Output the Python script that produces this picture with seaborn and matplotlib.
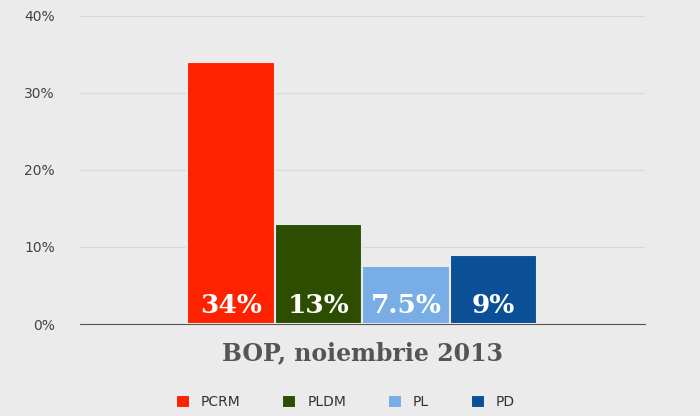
import matplotlib
matplotlib.use("Agg")
import matplotlib.pyplot as plt
import seaborn as sns
import pandas as pd

partide = ["PCRM", "PLDM", "PL", "PD"]
valori = [34, 13, 7.5, 9]
etichete = ["34%", "13%", "7.5%", "9%"]
culori = ["#ff2200", "#2d4d00", "#78ade6", "#0b4f97"]
grup = "BOP, noiembrie 2013"

df = pd.DataFrame({"grup": [grup] * len(partide), "partid": partide, "valoare": valori})

sns.set_style("whitegrid")
fig = plt.figure(figsize=(7, 4.16), dpi=100, facecolor="#ebebeb")
ax = fig.add_axes([0.114, 0.221, 0.807, 0.741])
ax.set_facecolor("#ebebeb")

sns.barplot(data=df, x="grup", y="valoare", hue="partid", palette=culori,
            width=0.62, edgecolor="#ebebeb", linewidth=1.5, saturation=1, ax=ax, legend=True)

for bar, txt in zip(ax.patches, etichete):
    ax.text(bar.get_x() + bar.get_width() / 2, 0.8, txt, ha="center", va="bottom",
            color="white", fontsize=19, fontweight="bold", family="DejaVu Serif")

ax.set_xlim(-0.5, 0.5)
ax.set_ylim(0, 40)
ax.set_yticks([0, 10, 20, 30, 40])
ax.set_yticklabels(["0%", "10%", "20%", "30%", "40%"], color="#444444", fontsize=10)
ax.tick_params(axis="y", length=0, pad=18)
ax.tick_params(axis="x", length=0, pad=12)
ax.set_xticks([0])
ax.set_xticklabels([grup], fontsize=17, fontweight="bold", family="DejaVu Serif", color="#555555")
ax.grid(axis="y", color="#d8d8d8", linewidth=0.8)
ax.grid(axis="x", visible=False)
for s in ["left", "right", "top"]:
    ax.spines[s].set_visible(False)
ax.spines["bottom"].set_color("#555555")
ax.set_xlabel("")
ax.set_ylabel("")

leg = ax.legend(loc="upper center", bbox_to_anchor=(0.47, -0.19), ncol=4, frameon=False,
                handlelength=1.0, handleheight=1.0, columnspacing=3, fontsize=10)
for t in leg.get_texts():
    t.set_color("#333333")

fig.savefig("out.png", dpi=100, facecolor=fig.get_facecolor())
